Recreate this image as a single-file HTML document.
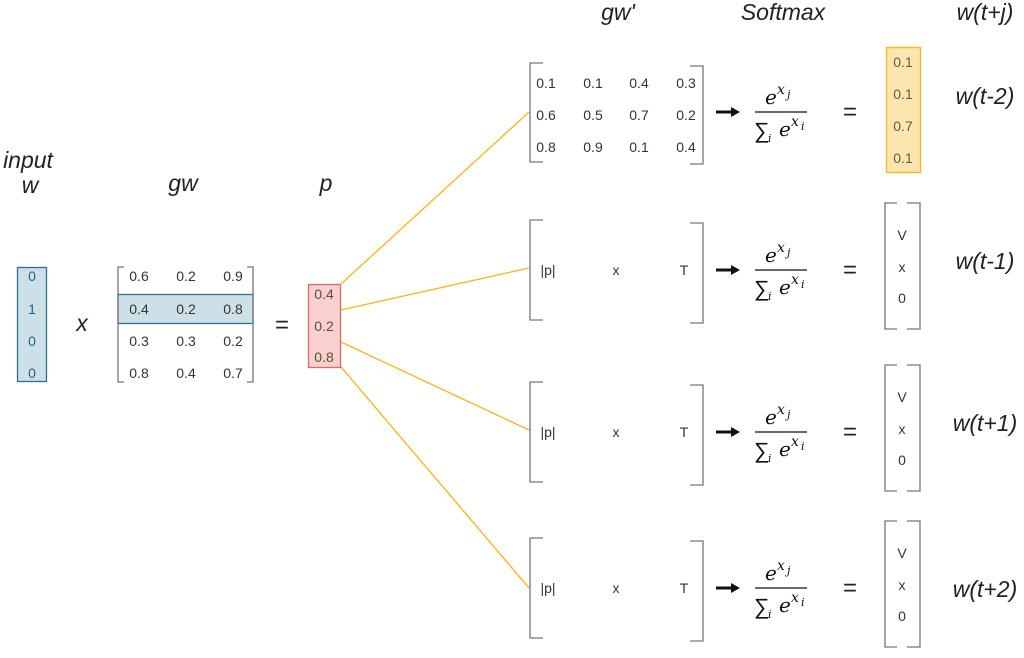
<!DOCTYPE html>
<html><head><meta charset="utf-8"><style>
html,body{margin:0;padding:0;background:#fff;width:1024px;height:658px;overflow:hidden}
svg text{font-family:"Liberation Sans",sans-serif}
.lab{font-size:23px;font-style:italic;fill:#222;text-anchor:middle}
.n{font-size:14px;fill:#333;text-anchor:middle;dominant-baseline:central}
.br{fill:none;stroke:#777;stroke-width:1.3}
.m{font-family:"DejaVu Serif",serif!important;font-style:italic;fill:#111}
</style></head><body>
<svg width="1024" height="658" viewBox="0 0 1024 658" xmlns="http://www.w3.org/2000/svg">
<defs>
<g id="sm">
<line x1="716" y1="0" x2="733" y2="0" stroke="#111" stroke-width="3"/>
<polygon points="731,-5 740,0 731,5" fill="#111"/>
<text x="765" y="-8" class="m" font-size="20">e</text>
<text x="777" y="-18" class="m" font-size="14">x</text>
<text x="787" y="-14" class="m" font-size="11">j</text>
<line x1="755" y1="0" x2="807" y2="0" stroke="#111" stroke-width="1.2"/>
<text x="754" y="26" font-family="DejaVu Sans" font-size="22" fill="#111">∑</text>
<text x="768" y="30" class="m" font-size="11">i</text>
<text x="779" y="24" class="m" font-size="20">e</text>
<text x="791" y="14" class="m" font-size="14">x</text>
<text x="801" y="18" class="m" font-size="11">i</text>
<text x="850" y="0" font-size="24" fill="#222" text-anchor="middle" dominant-baseline="central">=</text>
</g>
<g id="pxt">
<path class="br" d="M543,-50 H530 V50 H543"/>
<path class="br" d="M690,-47 H703 V53 H690"/>
<text x="548" y="0" class="n">|p|</text>
<text x="616" y="0" class="n">x</text>
<text x="684" y="0" class="n">T</text>
<path class="br" d="M897,-67 H885 V59 H897"/>
<path class="br" d="M907,-67 H920 V59 H907"/>
<text x="902" y="-35" class="n">V</text>
<text x="902" y="-3" class="n">x</text>
<text x="902" y="28" class="n">0</text>
</g>
</defs>

<text x="28" y="168" class="lab">input</text>
<text x="30" y="193" class="lab">w</text>
<text x="183" y="191" class="lab">gw</text>
<text x="326" y="191" class="lab">p</text>
<text x="618" y="20" class="lab">gw'</text>
<text x="783" y="20" class="lab">Softmax</text>
<text x="985" y="20" class="lab">w(t+j)</text>

<rect x="17.5" y="267.5" width="29" height="114" fill="#cde0e8" stroke="#2e6e8e" stroke-width="1.3"/>
<text x="32" y="276" class="n" style="fill:#2e5e7e">0</text>
<text x="32" y="309" class="n" style="fill:#2e5e7e">1</text>
<text x="32" y="341" class="n" style="fill:#2e5e7e">0</text>
<text x="32" y="373" class="n" style="fill:#2e5e7e">0</text>
<text x="82" y="331" class="lab">x</text>

<rect x="118" y="294.5" width="135" height="29" fill="#cde0e8" stroke="#2e6e8e" stroke-width="1.3"/>
<path class="br" d="M124,267 H118 V382 H124"/>
<path class="br" d="M247,267 H253 V382 H247"/>
<text x="139" y="276" class="n">0.6</text><text x="186" y="276" class="n">0.2</text><text x="233" y="276" class="n">0.9</text>
<text x="139" y="309" class="n">0.4</text><text x="186" y="309" class="n">0.2</text><text x="233" y="309" class="n">0.8</text>
<text x="139" y="341" class="n">0.3</text><text x="186" y="341" class="n">0.3</text><text x="233" y="341" class="n">0.2</text>
<text x="139" y="373" class="n">0.8</text><text x="186" y="373" class="n">0.4</text><text x="233" y="373" class="n">0.7</text>
<text x="282" y="325" font-size="24" fill="#222" text-anchor="middle" dominant-baseline="central">=</text>

<g stroke="#f5b820" stroke-width="1.4">
<line x1="341" y1="284" x2="529" y2="112"/>
<line x1="341" y1="310" x2="529" y2="268"/>
<line x1="341" y1="342" x2="529" y2="430"/>
<line x1="341" y1="367" x2="529" y2="588"/>
</g>

<rect x="308.5" y="284.5" width="32" height="83" fill="#f9cfcf" stroke="#e06a5a" stroke-width="1.3"/>
<text x="324" y="294" class="n" style="fill:#553">0.4</text>
<text x="324" y="326" class="n" style="fill:#553">0.2</text>
<text x="324" y="357" class="n" style="fill:#553">0.8</text>

<path class="br" d="M543,63 H530 V162 H543"/>
<path class="br" d="M690,66 H703 V164 H690"/>
<text x="546" y="83" class="n">0.1</text><text x="593" y="83" class="n">0.1</text><text x="639" y="83" class="n">0.4</text><text x="686" y="83" class="n">0.3</text>
<text x="546" y="115" class="n">0.6</text><text x="593" y="115" class="n">0.5</text><text x="639" y="115" class="n">0.7</text><text x="686" y="115" class="n">0.2</text>
<text x="546" y="147" class="n">0.8</text><text x="593" y="147" class="n">0.9</text><text x="639" y="147" class="n">0.1</text><text x="686" y="147" class="n">0.4</text>
<use href="#sm" transform="translate(0,112)"/>
<rect x="886.5" y="47.5" width="34" height="125" fill="#fde5b0" stroke="#f5b820" stroke-width="1.4"/>
<text x="903" y="62" class="n" style="fill:#654">0.1</text>
<text x="903" y="94" class="n" style="fill:#654">0.1</text>
<text x="903" y="126" class="n" style="fill:#654">0.7</text>
<text x="903" y="158" class="n" style="fill:#654">0.1</text>
<text x="985" y="104" class="lab">w(t-2)</text>

<use href="#pxt" transform="translate(0,270)"/><use href="#sm" transform="translate(0,270)"/>
<text x="985" y="269" class="lab">w(t-1)</text>
<use href="#pxt" transform="translate(0,432)"/><use href="#sm" transform="translate(0,432)"/>
<text x="985" y="431" class="lab">w(t+1)</text>
<use href="#pxt" transform="translate(0,588)"/><use href="#sm" transform="translate(0,588)"/>
<text x="985" y="597" class="lab">w(t+2)</text>
</svg>
</body></html>
